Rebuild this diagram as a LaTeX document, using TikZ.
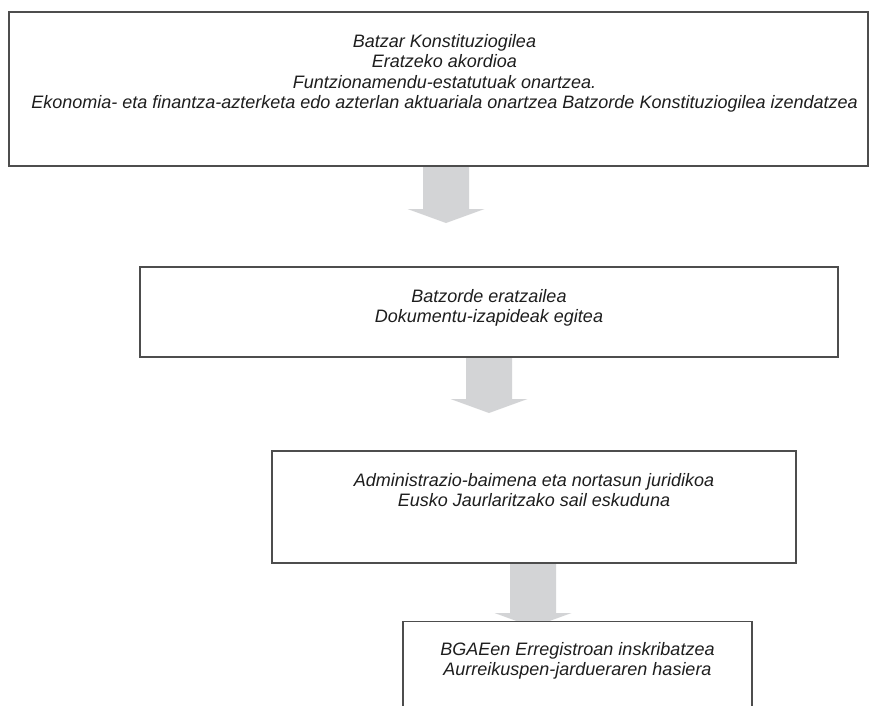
\documentclass[tikz,border=0pt]{standalone}
\usepackage{fontspec}
\setmainfont{Liberation Sans}
\usetikzlibrary{calc,positioning}
\definecolor{boxline}{HTML}{4D4D4D}
\definecolor{arrowgray}{HTML}{D3D4D6}
\definecolor{textgray}{HTML}{1E1E1E}
\tikzset{
  stepbox/.style={draw=boxline,line width=1.2pt,fill=white,inner sep=0pt},
  steptext/.style={anchor=north,inner sep=0pt,align=center,text=textgray,
    font=\itshape\fontsize{18}{20.3}\selectfont},
}
% gray block arrow from #1 (top of shaft) down to the tip #2
\newcommand{\flowarrow}[2]{%
  \fill[arrowgray] ($(#1)+(-23,0.6)$) -- ($(#2)+(-23,-14)$) -- ($(#2)+(-38.5,-14)$)
    -- (#2) -- ($(#2)+(38.5,-14)$) -- ($(#2)+(23,-14)$) -- ($(#1)+(23,0.6)$) -- cycle;}
\begin{document}
\begin{tikzpicture}[x=1pt,y=-1pt]
		\clip (0,0) rectangle (870,705);
		\fill[white] (0,0) rectangle (870,705);

		\node[stepbox,minimum width=859pt,minimum height=154pt] (box1) at (438.5,89) {};
		\node[stepbox,minimum width=698pt,minimum height=90pt] (box2) at (489,312) {};
		\node[stepbox,minimum width=524pt,minimum height=112pt] (box3) at (534,507) {};

		\coordinate (tip1) at (446,223);
		\coordinate (tip2) at (489,413);
		\coordinate (tip3) at (533,627);
		\flowarrow{box1.south -| tip1}{tip1}
		\flowarrow{box2.south -| tip2}{tip2}
		\flowarrow{box3.south -| tip3}{tip3}

		\node[stepbox,anchor=north,minimum width=349pt,minimum height=120pt] (box4) at (577.5,621) {};

		\node[steptext,below=23pt of box1.north,xshift=6pt] (txt1) {Batzar Konstituziogilea\\Eratzeko akordioa\\Funtzionamendu-estatutuak onartzea.\\Ekonomia- eta finantza-azterketa edo azterlan aktuariala onartzea Batzorde Konstituziogilea izendatzea};
		\node[steptext,below=23pt of box2.north] (txt2) {Batzorde eratzailea\\Dokumentu-izapideak egitea};
		\node[steptext,below=23pt of box3.north] (txt3) {Administrazio-baimena eta nortasun juridikoa\\Eusko Jaurlaritzako sail eskuduna};
		\node[steptext,below=21pt of box4.north] (txt4) {BGAEen Erregistroan inskribatzea\\Aurreikuspen-jardueraren hasiera};
\end{tikzpicture}
\end{document}
